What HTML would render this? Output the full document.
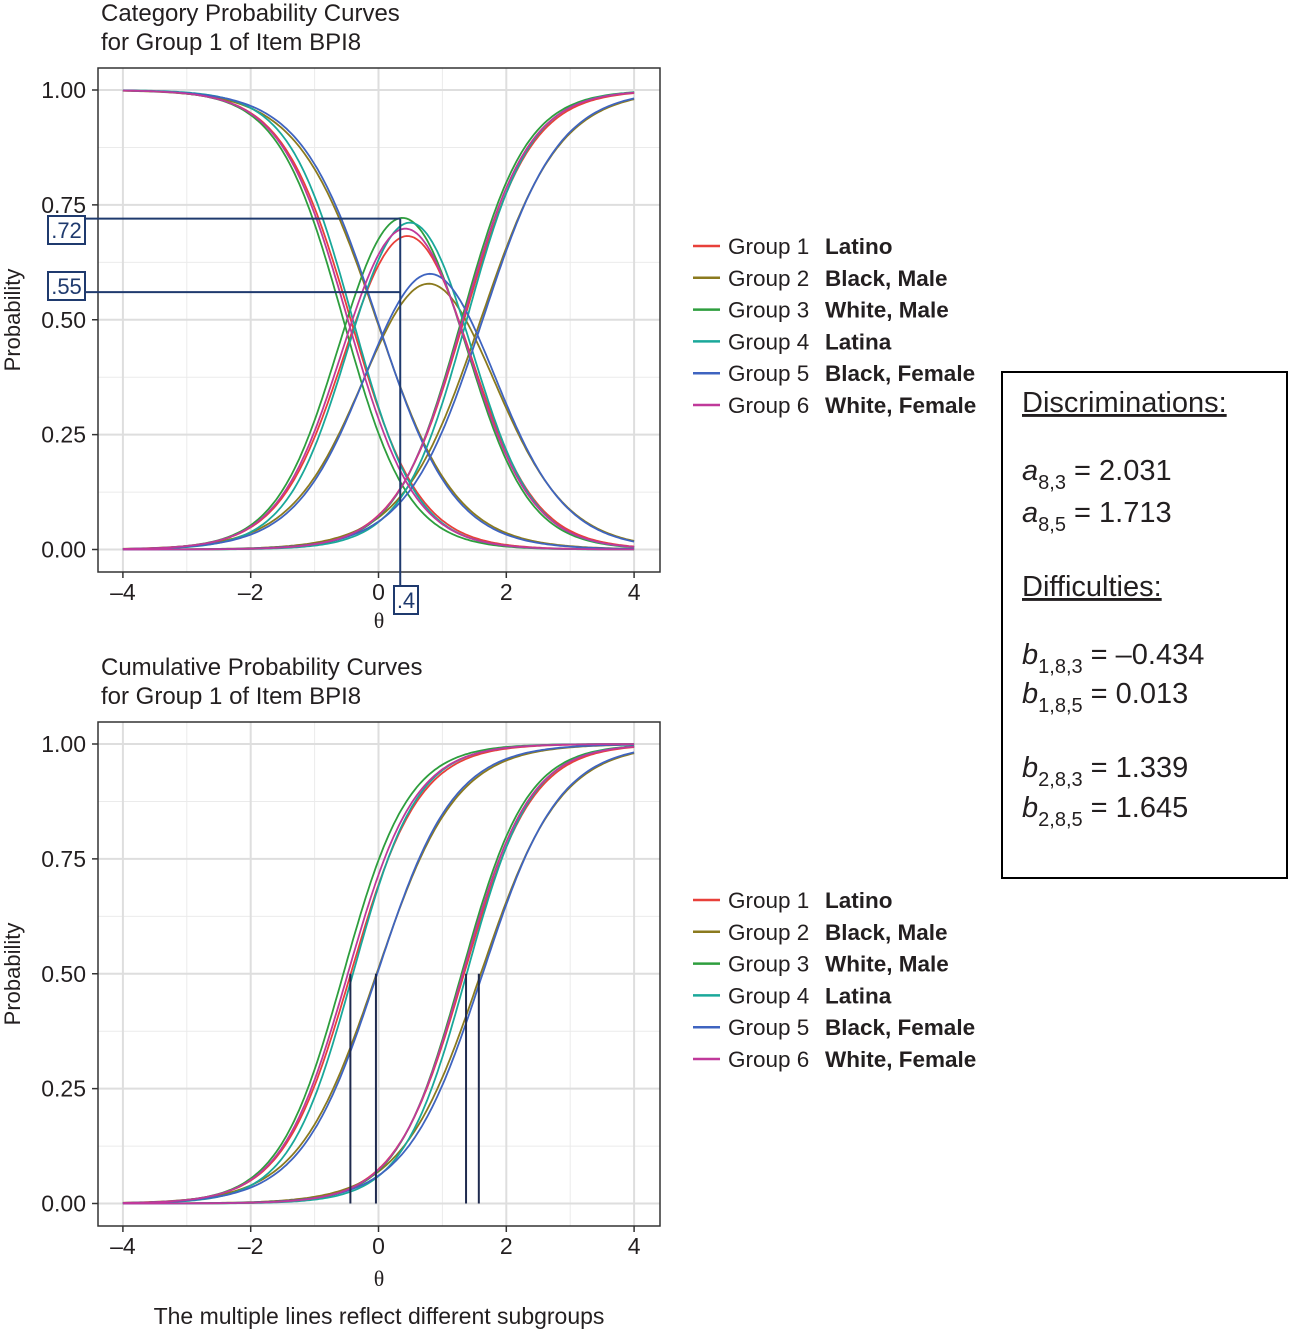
<!DOCTYPE html>
<html><head><meta charset="utf-8"><style>
body{margin:0;background:#fff;}
svg{display:block;font-family:"Liberation Sans",sans-serif;}
</style></head><body>
<svg id="s" width="1289" height="1329" viewBox="0 0 1289 1329">
<g id="topPanel"></g>
<g id="botPanel"></g>
<g>
<rect x="1002" y="372" width="285" height="506" fill="#fff" stroke="#000" stroke-width="2"/>
<text x="1022" y="412" font-size="29" text-decoration="underline" fill="#231f20">Discriminations:</text>
<text x="1022" y="480" font-size="29" fill="#231f20"><tspan font-style="italic">a</tspan><tspan font-size="20" dy="9">8,3</tspan><tspan dy="-9"> = 2.031</tspan></text>
<text x="1022" y="522" font-size="29" fill="#231f20"><tspan font-style="italic">a</tspan><tspan font-size="20" dy="9">8,5</tspan><tspan dy="-9"> = 1.713</tspan></text>
<text x="1022" y="596" font-size="29" text-decoration="underline" fill="#231f20">Difficulties:</text>
<text x="1022" y="664" font-size="29" fill="#231f20"><tspan font-style="italic">b</tspan><tspan font-size="20" dy="9">1,8,3</tspan><tspan dy="-9"> = –0.434</tspan></text>
<text x="1022" y="703" font-size="29" fill="#231f20"><tspan font-style="italic">b</tspan><tspan font-size="20" dy="9">1,8,5</tspan><tspan dy="-9"> = 0.013</tspan></text>
<text x="1022" y="777" font-size="29" fill="#231f20"><tspan font-style="italic">b</tspan><tspan font-size="20" dy="9">2,8,3</tspan><tspan dy="-9"> = 1.339</tspan></text>
<text x="1022" y="817" font-size="29" fill="#231f20"><tspan font-style="italic">b</tspan><tspan font-size="20" dy="9">2,8,5</tspan><tspan dy="-9"> = 1.645</tspan></text>
</g>
<text x="379" y="1324" font-size="23" text-anchor="middle" fill="#231f20">The multiple lines reflect different subgroups</text>
</svg>
<script>
const groupNames=["Group 1","Group 2","Group 3","Group 4","Group 5","Group 6"];
const groupLabels=["Latino","Black, Male","White, Male","Latina","Black, Female","White, Female"];
const groupColors=["#e8403a","#8b7a1e","#2e9e3e","#1aa89a","#3f64c0","#c0399a"];
const discrim=[1.88,1.62,1.97,2.0,1.68,1.92];
const thresh1=[-0.434,-0.03,-0.55,-0.40,-0.02,-0.48];
const thresh2=[1.339,1.60,1.30,1.38,1.63,1.32];
const xTicks=[-4,-2,0,2,4];
const yTicks=[0,0.25,0.5,0.75,1];
const yTickLabels=["0.00","0.25","0.50","0.75","1.00"];
const cumLines=[-0.44,-0.04,1.37,1.57];
const NS="http://www.w3.org/2000/svg";
function mk(p,t,a){const e=document.createElementNS(NS,t);for(const k in a)e.setAttribute(k,a[k]);p.appendChild(e);return e;}
function logis(a,b,t){return 1/(1+Math.exp(-a*(t-b)));}
function panel(g,T0,title1,title2,fns,xlY){
  const L=98,R=660,T=T0,B=T0+504;
  const sx=v=>378.5+v*63.9;
  const sy=v=>T+22+(1-v)*459.5;
  const ttl=mk(g,'text',{x:101,y:T-47,'font-size':24,fill:'#231f20'});
  
  
  mk(ttl,'tspan',{x:101,dy:0}).textContent=title1;
  mk(ttl,'tspan',{x:101,dy:29}).textContent=title2;
  mk(g,'rect',{x:L,y:T,width:R-L,height:B-T,fill:'#fff'});
  for(let v=-3;v<=3;v+=2) mk(g,'line',{x1:sx(v),x2:sx(v),y1:T,y2:B,stroke:'#ebebeb','stroke-width':1});
  for(let v=0.125;v<1;v+=0.25) mk(g,'line',{x1:L,x2:R,y1:sy(v),y2:sy(v),stroke:'#ebebeb','stroke-width':1});
  xTicks.forEach(v=>{mk(g,'line',{x1:sx(v),x2:sx(v),y1:T,y2:B,stroke:'#dedede','stroke-width':2});
    mk(g,'line',{x1:sx(v),x2:sx(v),y1:B,y2:B+6,stroke:'#333','stroke-width':1.5});
    const t=mk(g,'text',{x:sx(v),y:B+28,'font-size':23,'text-anchor':'middle',fill:'#231f20'});t.textContent=(v<0?'–':'')+Math.abs(v);
    });
  yTicks.forEach((v,i)=>{mk(g,'line',{x1:L,x2:R,y1:sy(v),y2:sy(v),stroke:'#dedede','stroke-width':2});
    mk(g,'line',{x1:L-6,x2:L,y1:sy(v),y2:sy(v),stroke:'#333','stroke-width':1.5});
    const t=mk(g,'text',{x:L-12,y:sy(v)+8,'font-size':23,'text-anchor':'end',fill:'#231f20'});t.textContent=yTickLabels[i];
    });
  const yl=mk(g,'text',{x:20,y:(T+B)/2,'font-size':22,'text-anchor':'middle',fill:'#231f20',transform:`rotate(-90 20 ${(T+B)/2})`});yl.textContent='Probability';
  
  const xl=mk(g,'text',{x:379,y:B+xlY,'font-size':22,'text-anchor':'middle',fill:'#231f20','font-family':'"Liberation Serif",serif'});xl.textContent='θ';
  
  const cg=mk(g,'g',{});
  for(let gi=0;gi<groupNames.length;gi++){
    fns.forEach(f=>{let d='';for(let k=0;k<=200;k++){const t=-4+k*0.04;d+=(k?'L':'M')+sx(t).toFixed(1)+','+sy(f(gi,t)).toFixed(1);}
      const p=mk(cg,'path',{d:d,fill:'none',stroke:groupColors[gi],'stroke-width':1.8});
      
      });
  }
  mk(g,'rect',{x:L,y:T,width:R-L,height:B-T,fill:'none',stroke:'#333','stroke-width':1.5});
  const ly0=T+178;
  groupNames.forEach((n,i)=>{const y=ly0+i*31.8;
    const lg=mk(g,'g',{});
    
    
    mk(lg,'line',{x1:693,x2:720,y1:y,y2:y,stroke:groupColors[i],'stroke-width':2.5});
    const t=mk(lg,'text',{x:728,y:y+8,'font-size':22.5,fill:'#231f20'});t.textContent=n;
    const b=mk(lg,'text',{x:825,y:y+8,'font-size':22.5,'font-weight':'bold',fill:'#231f20'});b.textContent=groupLabels[i];});
  return {sx,sy,T,B};
}
const P1=(i,t)=>logis(discrim[i],thresh1[i],t), P2=(i,t)=>logis(discrim[i],thresh2[i],t);
const tg=document.getElementById('topPanel');
const topP=panel(tg,68,'Category Probability Curves','for Group 1 of Item BPI8',
  [(i,t)=>1-P1(i,t),(i,t)=>P1(i,t)-P2(i,t),(i,t)=>P2(i,t)],56);
const ann=mk(tg,'g',{});


const vx=topP.sx(0.34);
mk(ann,'line',{x1:84,x2:vx,y1:topP.sy(0.72),y2:topP.sy(0.72),stroke:'#1f3a6e','stroke-width':2});
mk(ann,'line',{x1:84,x2:vx,y1:topP.sy(0.56),y2:topP.sy(0.56),stroke:'#1f3a6e','stroke-width':2});
mk(ann,'line',{x1:vx,x2:vx,y1:topP.sy(0.72),y2:588,stroke:'#1f3a6e','stroke-width':2});
[[48,216,'.72'],[48,272,'.55'],[394,586,'.4']].forEach(([x,y,s])=>{
  mk(ann,'rect',{x:x,y:y,width:s.length>2?37:24,height:28,fill:'#fff',stroke:'#1f3a6e','stroke-width':2});
  const t=mk(ann,'text',{x:x+(s.length>2?18.5:12),y:y+22,'font-size':22,'text-anchor':'middle',fill:'#1f3a6e'});t.textContent=s;});
const bg=document.getElementById('botPanel');
const botP=panel(bg,722,'Cumulative Probability Curves','for Group 1 of Item BPI8',[P1,P2],60);
cumLines.forEach(v=>{const l=mk(bg,'line',{x1:botP.sx(v),x2:botP.sx(v),y1:botP.sy(0.5),y2:botP.sy(0),stroke:'#1f2a4e','stroke-width':2});
  
  });
</script>
</body></html>
